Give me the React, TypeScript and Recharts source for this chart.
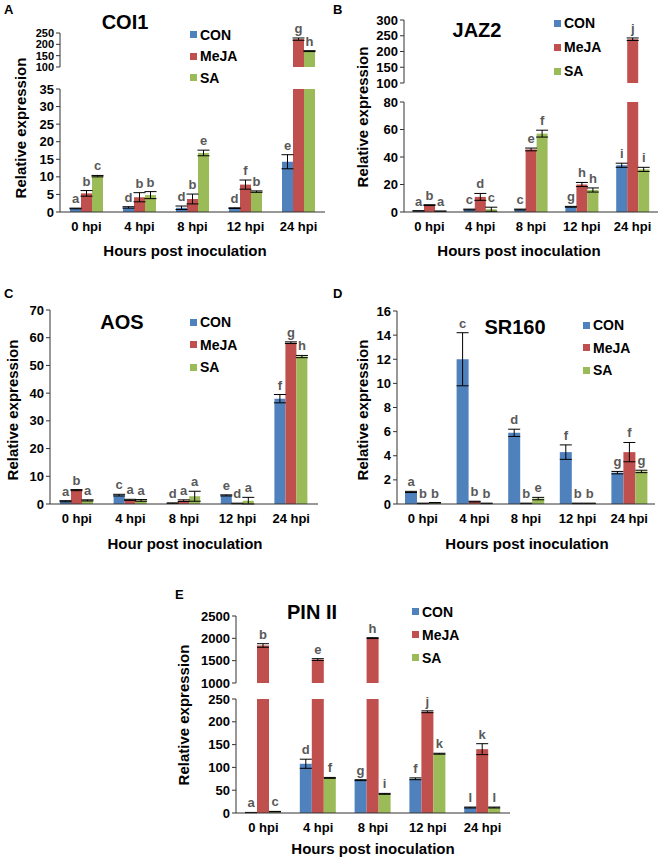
import React from "react";
import { BarChart, Bar, XAxis, YAxis, ErrorBar, LabelList, Legend } from "recharts";

const hours = ["0 hpi", "4 hpi", "8 hpi", "12 hpi", "24 hpi"];
const seriesNames = ["CON", "MeJA", "SA"];
const COLORS = ["#4F81BD", "#C0504D", "#9BBB59"];

// A - COI1
const coiCon = [1.0, 1.3, 1.2, 1.1, 14.3];
const coiConErr = [0.1, 0.2, 0.5, 0.1, 2.0];
const coiConLet = ["a", "d", "d", "d", "e"];
const coiMeja = [5.3, 4.2, 3.7, 7.8, 223];
const coiMejaErr = [0.8, 1.3, 1.4, 1.3, 5];
const coiMejaLet = ["b", "b", "b", "f", "g"];
const coiSa = [10.2, 4.8, 16.8, 5.8, 170];
const coiSaErr = [0.2, 1.0, 0.8, 0.2, 2];
const coiSaLet = ["c", "b", "e", "b", "h"];

// B - JAZ2
const jazCon = [0.8, 1.8, 1.8, 3.8, 34];
const jazConErr = [0.1, 0.3, 0.3, 0.3, 1.5];
const jazConLet = ["a", "c", "c", "g", "i"];
const jazMeja = [5, 11, 45.5, 20, 239];
const jazMejaErr = [0.3, 2.5, 1, 1.5, 4];
const jazMejaLet = ["b", "d", "e", "h", "j"];
const jazSa = [0.6, 2, 57, 16, 31];
const jazSaErr = [0.1, 1.5, 2.5, 1.5, 1.5];
const jazSaLet = ["a", "c", "f", "h", "i"];

// C - AOS
const aosCon = [1.0, 3.2, 0.3, 3.1, 38];
const aosConErr = [0.2, 0.3, 0.1, 0.2, 1.5];
const aosConLet = ["a", "c", "d", "e", "f"];
const aosMeja = [5.0, 1.5, 1.2, 0.2, 58.2];
const aosMejaErr = [0.2, 0.2, 0.3, 0.1, 0.3];
const aosMejaLet = ["b", "a", "a", "d", "g"];
const aosSa = [1.3, 1.3, 2.8, 1.2, 53.2];
const aosSaErr = [0.2, 0.3, 1.8, 1.2, 0.4];
const aosSaLet = ["a", "a", "a", "a", "h"];

// D - SR160
const srCon = [1.0, 12.0, 5.9, 4.3, 2.6];
const srConErr = [0.05, 2.2, 0.3, 0.6, 0.1];
const srConLet = ["a", "c", "d", "f", "g"];
const srMeja = [0.05, 0.2, 0.05, 0.05, 4.3];
const srMejaErr = [0.02, 0.03, 0.02, 0.02, 0.8];
const srMejaLet = ["b", "b", "b", "b", "f"];
const srSa = [0.1, 0.05, 0.45, 0.05, 2.7];
const srSaErr = [0.02, 0.02, 0.1, 0.02, 0.1];
const srSaLet = ["b", "b", "e", "b", "g"];

// E - PIN II
const pinCon = [1, 108, 72, 75, 12];
const pinConErr = [0.3, 10, 1, 2, 1];
const pinConLet = ["a", "d", "g", "f", "l"];
const pinMeja = [1840, 1525, 2005, 222, 140];
const pinMejaErr = [40, 20, 10, 2, 12];
const pinMejaLet = ["b", "e", "h", "j", "k"];
const pinSa = [3, 77, 42, 130, 12];
const pinSaErr = [0.5, 1, 1, 1, 1];
const pinSaLet = ["c", "f", "i", "k", "l"];

const FONT = "'Liberation Sans', Arial, sans-serif";

function makeSet(vals: number[][], errs: number[][], lets: string[][]) {
  const rows = hours.map((h, i) => ({
    name: h,
    s0: vals[0][i],
    s1: vals[1][i],
    s2: vals[2][i],
    e0: errs[0][i],
    e1: errs[1][i],
    e2: errs[2][i],
  }));
  return { rows, vals, errs, lets };
}

const setA = makeSet([coiCon, coiMeja, coiSa], [coiConErr, coiMejaErr, coiSaErr], [coiConLet, coiMejaLet, coiSaLet]);
const setB = makeSet([jazCon, jazMeja, jazSa], [jazConErr, jazMejaErr, jazSaErr], [jazConLet, jazMejaLet, jazSaLet]);
const setC = makeSet([aosCon, aosMeja, aosSa], [aosConErr, aosMejaErr, aosSaErr], [aosConLet, aosMejaLet, aosSaLet]);
const setD = makeSet([srCon, srMeja, srSa], [srConErr, srMejaErr, srSaErr], [srConLet, srMejaLet, srSaLet]);
const setE = makeSet([pinCon, pinMeja, pinSa], [pinConErr, pinMejaErr, pinSaErr], [pinConLet, pinMejaLet, pinSaLet]);

const letterLabel = (vals: number[], errs: number[], lets: string[], ppu: number, lo: number, hi: number) =>
  (props: any) => {
    const i = props.index;
    const v = vals[i];
    if (v > hi || v < lo) return null;
    const vb = props.viewBox || props;
    const x = vb.x + vb.width / 2;
    const top = Math.min(vb.y, vb.y + vb.height);
    const y = top - errs[i] * ppu - 5;
    return (
      <text key={"l" + i} x={x} y={y} textAnchor="middle" fontSize={13} fontWeight={700} fill="#595959" fontFamily={FONT}>
        {lets[i]}
      </text>
    );
  };

const TOP = 20;

function Segment({ set, x, y, w, h, lo, hi, ticks, showX, barSize, legend, tickFont = 13 }: any) {
  const ppu = h / (hi - lo);
  const bottom = showX ? 0 : 8;
  return (
    <div style={{ position: "absolute", left: x - 60, top: y - TOP }}>
      <BarChart
        width={w + 70}
        height={h + TOP + (showX ? 40 : bottom)}
        data={set.rows}
        margin={{ top: TOP, right: 10, left: 0, bottom }}
        barGap={0}
        barSize={barSize}
      >
        <XAxis
          dataKey="name"
          hide={!showX}
          height={40}
          interval={0}
          tickLine={false}
          tickSize={6}
          tickMargin={4}
          axisLine={{ stroke: "#333" }}
          tick={{ fontSize: 13, fontWeight: 700, fill: "#000" }}
        />
        <YAxis
          width={60}
          domain={[lo, hi]}
          ticks={ticks}
          interval={0}
          allowDataOverflow
          tickSize={4}
          tickMargin={2}
          axisLine={{ stroke: "#333" }}
          tickLine={{ stroke: "#333" }}
          tick={{ fontSize: tickFont, fontWeight: 700, fill: "#000" }}
        />
        {[0, 1, 2].map((k) => (
          <Bar key={k} dataKey={"s" + k} name={seriesNames[k]} fill={COLORS[k]} isAnimationActive={false}>
            <ErrorBar dataKey={"e" + k} width={6} stroke="#000" strokeWidth={1} direction="y" />
            <LabelList content={letterLabel(set.vals[k], set.errs[k], set.lets[k], ppu, lo, hi)} />
          </Bar>
        ))}
        {legend && (
          <Legend
            layout="vertical"
            align="center"
            verticalAlign="middle"
            wrapperStyle={{ left: legend.left - (x - 60), top: legend.top - (y - TOP), width: "auto" }}
            content={({ payload }: any) => (
              <div style={{ fontSize: 14, fontWeight: 700, color: "#000" }}>
                {(payload || []).map((p: any) => (
                  <div key={p.value} style={{ display: "flex", alignItems: "center", height: legend.gap }}>
                    <span style={{ width: 7, height: 7, background: p.color, marginRight: 3, display: "inline-block" }} />
                    {p.value}
                  </div>
                ))}
              </div>
            )}
          />
        )}
      </BarChart>
    </div>
  );
}

function Txt({ x, y, size, children, rotate, left }: any) {
  return (
    <div
      style={{
        position: "absolute",
        left: x,
        top: y,
        transform: left ? "none" : `translate(-50%, -50%)${rotate ? " rotate(-90deg)" : ""}`,
        fontSize: size,
        fontWeight: 700,
        whiteSpace: "nowrap",
        lineHeight: 1,
        color: "#000",
      }}
    >
      {children}
    </div>
  );
}

export default function App() {
  return (
    <div style={{ position: "absolute", left: 0, top: 0, width: 660, height: 858, background: "#fff", fontFamily: FONT }}>
      {/* A */}
      <Txt x={4} y={3} size={13} left>A</Txt>
      <Txt x={125} y={22} size={20}>COI1</Txt>
      <Segment set={setA} x={60} y={33} w={265} h={34} lo={100} hi={250} ticks={[100, 150, 200, 250]} barSize={11} tickFont={11}
        legend={{ left: 190, top: 24, gap: 21.5 }} />
      <Segment set={setA} x={60} y={89} w={265} h={123} lo={0} hi={35} ticks={[0, 5, 10, 15, 20, 25, 30, 35]} barSize={11} showX />
      <Txt x={20} y={128} size={15} rotate>Relative expression</Txt>
      <Txt x={185} y={250} size={15}>Hours post inoculation</Txt>

      {/* B */}
      <Txt x={333} y={3} size={13} left>B</Txt>
      <Txt x={477} y={30} size={20}>JAZ2</Txt>
      <Segment set={setB} x={404} y={20} w={254} h={63} lo={100} hi={300} ticks={[100, 150, 200, 250, 300]} barSize={11}
        legend={{ left: 554, top: 11, gap: 24 }} />
      <Segment set={setB} x={404} y={102} w={254} h={110} lo={0} hi={80} ticks={[0, 20, 40, 60, 80]} barSize={11} showX />
      <Txt x={362} y={117} size={15} rotate>Relative expression</Txt>
      <Txt x={519} y={250} size={15}>Hours post inoculation</Txt>

      {/* C */}
      <Txt x={4} y={287} size={13} left>C</Txt>
      <Txt x={122} y={322} size={20}>AOS</Txt>
      <Segment set={setC} x={50} y={310} w={268} h={194} lo={0} hi={70} ticks={[0, 10, 20, 30, 40, 50, 60, 70]} barSize={11} showX
        legend={{ left: 190, top: 311, gap: 22.5 }} />
      <Txt x={12} y={410} size={15} rotate>Relative expression</Txt>
      <Txt x={185} y={543} size={15}>Hour post inoculation</Txt>

      {/* D */}
      <Txt x={333} y={287} size={13} left>D</Txt>
      <Txt x={515} y={327} size={20}>SR160</Txt>
      <Segment set={setD} x={397} y={311} w={258} h={193} lo={0} hi={16} ticks={[0, 2, 4, 6, 8, 10, 12, 14, 16]} barSize={12} showX
        legend={{ left: 583, top: 314, gap: 22.5 }} />
      <Txt x={362} y={410} size={15} rotate>Relative expression</Txt>
      <Txt x={527} y={543} size={15}>Hours post inoculation</Txt>

      {/* E */}
      <Txt x={175} y={588} size={13} left>E</Txt>
      <Txt x={312} y={612} size={20}>PIN II</Txt>
      <Segment set={setE} x={236} y={616} w={274} h={67} lo={1000} hi={2500} ticks={[1000, 1500, 2000, 2500]} barSize={12}
        legend={{ left: 412, top: 600, gap: 23 }} />
      <Segment set={setE} x={236} y={699} w={274} h={114} lo={0} hi={250} ticks={[0, 50, 100, 150, 200, 250]} barSize={12} showX />
      <Txt x={183} y={715} size={15} rotate>Relative expression</Txt>
      <Txt x={373} y={848} size={15}>Hours post inoculation</Txt>
    </div>
  );
}
